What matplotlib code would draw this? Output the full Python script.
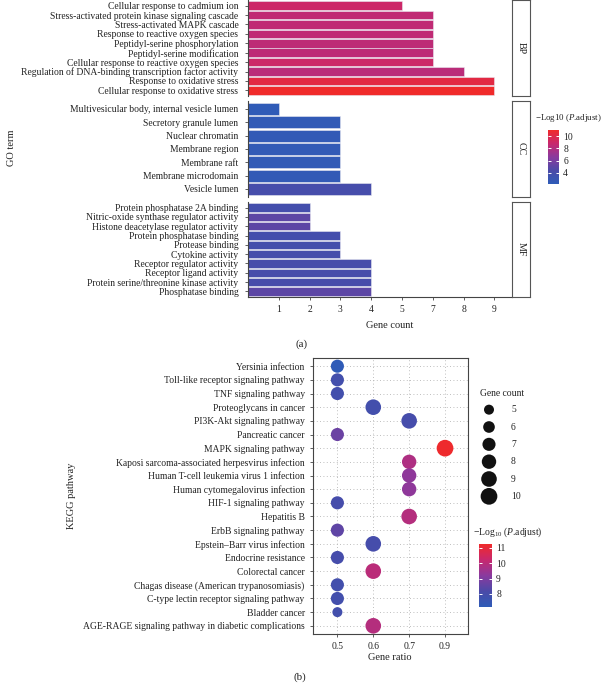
import numpy as np
import matplotlib.pyplot as plt
from matplotlib.colors import LinearSegmentedColormap, Normalize
from matplotlib.cm import ScalarMappable

plt.rcParams['font.family'] = ['Liberation Serif', 'DejaVu Serif']
plt.rcParams['mathtext.fontset'] = 'custom'
plt.rcParams['mathtext.rm'] = 'Liberation Serif'
plt.rcParams['mathtext.it'] = 'Liberation Serif:italic'

# ---- GO enrichment (panel a) ----
bp_terms = ["Cellular response to cadmium ion",
            "Stress-activated protein kinase signaling cascade",
            "Stress-activated MAPK cascade",
            "Response to reactive oxygen species",
            "Peptidyl-serine phosphorylation",
            "Peptidyl-serine modification",
            "Cellular response to reactive oxygen species",
            "Regulation of DNA-binding transcription factor activity",
            "Response to oxidative stress",
            "Cellular response to oxidative stress"]
bp_count = [5, 7, 7, 7, 7, 7, 7, 8, 9, 9]
bp_logp = [9.0, 8.5, 8.5, 8.5, 8.4, 8.4, 9.0, 8.3, 10.2, 11.0]

cc_terms = ["Multivesicular body, internal vesicle lumen",
            "Secretory granule lumen",
            "Nuclear chromatin",
            "Membrane region",
            "Membrane raft",
            "Membrane microdomain",
            "Vesicle lumen"]
cc_count = [1, 3, 3, 3, 3, 3, 4]
cc_logp = [2.4, 2.5, 2.5, 2.5, 2.5, 2.5, 4.0]

mf_terms = ["Protein phosphatase 2A binding",
            "Nitric-oxide synthase regulator activity",
            "Histone deacetylase regulator activity",
            "Protein phosphatase binding",
            "Protease binding",
            "Cytokine activity",
            "Receptor regulator activity",
            "Receptor ligand activity",
            "Protein serine/threonine kinase activity",
            "Phosphatase binding"]
mf_count = [2, 2, 2, 3, 3, 3, 4, 4, 4, 4]
mf_logp = [3.9, 5.0, 5.0, 3.9, 3.9, 4.0, 4.1, 4.1, 4.1, 5.0]

count_levels = [1, 2, 3, 4, 5, 7, 8, 9]
go_ticks = [4, 6, 8, 10]

# ---- KEGG enrichment (panel b) ----
kegg_terms = ["Yersinia infection",
              "Toll-like receptor signaling pathway",
              "TNF signaling pathway",
              "Proteoglycans in cancer",
              "PI3K-Akt signaling pathway",
              "Pancreatic cancer",
              "MAPK signaling pathway",
              "Kaposi sarcoma-associated herpesvirus infection",
              "Human T-cell leukemia virus 1 infection",
              "Human cytomegalovirus infection",
              "HIF-1 signaling pathway",
              "Hepatitis B",
              "ErbB signaling pathway",
              "Epstein\u2013Barr virus infection",
              "Endocrine resistance",
              "Colorectal cancer",
              "Chagas disease (American trypanosomiasis)",
              "C-type lectin receptor signaling pathway",
              "Bladder cancer",
              "AGE-RAGE signaling pathway in diabetic complications"]
kegg_ratio = [0.5, 0.5, 0.5, 0.6, 0.7, 0.5, 0.9, 0.7, 0.7, 0.7,
              0.5, 0.7, 0.5, 0.6, 0.5, 0.6, 0.5, 0.5, 0.5, 0.6]
kegg_count = [7, 7, 7, 9, 9, 7, 10, 8, 8, 8,
              7, 9, 7, 9, 7, 9, 7, 7, 5, 9]
kegg_logp = [7.2, 7.9, 7.9, 7.9, 8.0, 8.7, 11.2, 9.8, 9.3, 9.3,
             8.0, 9.9, 8.5, 8.0, 8.0, 10.0, 7.9, 7.9, 7.9, 9.9]

ratio_levels = [0.5, 0.6, 0.7, 0.9]
size_levels = [5, 6, 7, 8, 9, 10]
kegg_ticks = [8, 9, 10, 11]

cmap = LinearSegmentedColormap.from_list(
    "bluered", ["#2e5cb8", "#4b4aa8", "#8a3a9e", "#c8286e", "#f02a2a"])

W, H = 605, 684
fig = plt.figure(figsize=(W / 100, H / 100), dpi=100)


def box(x0, y0, x1, y1):
    return [x0 / W, 1 - y1 / H, (x1 - x0) / W, (y1 - y0) / H]


def dot_size(c):
    return 0.5184 * (100 + 35.8 * (np.asarray(c) - 5))


txt = "#222222"
spine = "#444444"
fs = 6.9
tfs = 7.5

# ---------------- panel (a) ----------------
go_norm = Normalize(2.2, 11.0)
panels = [("BP", bp_terms, bp_count, bp_logp, 0, 96),
          ("CC", cc_terms, cc_count, cc_logp, 101, 197),
          ("MF", mf_terms, mf_count, mf_logp, 202, 297)]

for name, terms, counts, logp, y0, y1 in panels:
    ax = fig.add_axes(box(248, y0, 512, y1))
    ypos = np.arange(len(terms))
    xpos = [count_levels.index(c) + 1 for c in counts]
    ax.barh(ypos, xpos, height=0.9, color=cmap(go_norm(logp)),
            edgecolor="#e8e8f0", linewidth=0.4)
    ax.set_xlim(0, 8.57)
    ax.set_ylim(len(terms) - 0.4, -0.6)
    ax.set_yticks(ypos)
    ax.set_yticklabels(terms, fontsize=fs, color=txt)
    for s in ["top", "right"]:
        ax.spines[s].set_visible(False)
    ax.spines["left"].set_color(spine)
    ax.spines["left"].set_linewidth(0.8)
    ax.tick_params(axis="y", length=2.5, width=0.6, color=spine, pad=4.5)
    if name == "MF":
        ax.spines["bottom"].set_color(spine)
        ax.spines["bottom"].set_linewidth(0.8)
        ax.set_xticks(range(1, len(count_levels) + 1))
        ax.set_xticklabels([str(c) for c in count_levels], fontsize=fs, color=txt)
        ax.tick_params(axis="x", length=2.5, width=0.6, color=spine, pad=3)
    else:
        ax.spines["bottom"].set_visible(False)
        ax.set_xticks([])

    st = fig.add_axes(box(512, y0, 530, y1))
    st.set_xticks([])
    st.set_yticks([])
    for s in st.spines.values():
        s.set_color("#555555")
        s.set_linewidth(0.8)
    st.text(0.5, 0.5, name, rotation=-90, ha="center", va="center",
            fontsize=7.2, color=txt, transform=st.transAxes)

fig.text(12 / W, 1 - 148 / H, "GO term", rotation=90, ha="center",
         va="center", fontsize=tfs, color=txt)
fig.text(390 / W, 1 - 325 / H, "Gene count", ha="center", va="center",
         fontsize=tfs, color=txt)
fig.text(301 / W, 1 - 344 / H, "(a)", ha="center", va="center",
         fontsize=7.8, color=txt)

cax = fig.add_axes(box(548, 130, 559, 184))
cb = fig.colorbar(ScalarMappable(norm=go_norm, cmap=cmap), cax=cax,
                  ticks=go_ticks)
cb.outline.set_visible(False)
cax.tick_params(color="white", labelcolor=txt, length=2.5, width=0.7,
                direction="in", left=True, right=True, labelsize=fs, pad=3)
fig.text(535 / W, 1 - 118 / H, r"$-$Log10 ($\it{P}$.adjust)", ha="left",
         va="center", fontsize=6.4, color=txt)

# ---------------- panel (b) ----------------
kegg_norm = Normalize(7.15, 11.26)
ax2 = fig.add_axes(box(313, 358, 468, 634))
ky = np.arange(len(kegg_terms))
kx = [ratio_levels.index(r) for r in kegg_ratio]
for xg in range(len(ratio_levels)):
    ax2.axvline(xg, color="#a8a8a8", linestyle=(0, (1, 3)), linewidth=0.6,
                zorder=0)
for yg in ky:
    ax2.axhline(yg, color="#a8a8a8", linestyle=(0, (1, 3)), linewidth=0.6,
                zorder=0)
ax2.scatter(kx, ky, s=dot_size(kegg_count), c=cmap(kegg_norm(kegg_logp)),
            linewidths=0, zorder=3)
ax2.set_xlim(-0.68, 3.64)
ax2.set_ylim(len(kegg_terms) - 0.4, -0.6)
ax2.set_yticks(ky)
ax2.set_yticklabels(kegg_terms, fontsize=fs, color=txt)
ax2.set_xticks(range(len(ratio_levels)))
ax2.set_xticklabels([str(r) for r in ratio_levels], fontsize=fs, color=txt)
ax2.tick_params(length=2.5, width=0.6, color=spine, pad=3.5)
for s in ax2.spines.values():
    s.set_color(spine)
    s.set_linewidth(0.8)

fig.text(72 / W, 1 - 496 / H, "KEGG pathway", rotation=90, ha="center",
         va="center", fontsize=tfs, color=txt)
fig.text(390 / W, 1 - 657 / H, "Gene ratio", ha="center", va="center",
         fontsize=tfs, color=txt)
fig.text(300 / W, 1 - 677 / H, "(b)", ha="center", va="center",
         fontsize=7.8, color=txt)

# gene count legend
fig.text(480 / W, 1 - 393 / H, "Gene count", ha="left", va="center",
         fontsize=fs, color=txt)
lax = fig.add_axes(box(480, 401, 520, 505))
ly = np.arange(len(size_levels))
lax.scatter(np.zeros(len(size_levels)), ly, s=dot_size(size_levels),
            color="#111111", linewidths=0)
for i, lv in enumerate(size_levels):
    lax.text(0.55, i, str(lv), ha="left", va="center", fontsize=fs, color=txt)
lax.set_xlim(-0.225, 0.775)
lax.set_ylim(len(size_levels) - 0.5, -0.5)
lax.axis("off")

cax2 = fig.add_axes(box(479, 544, 492, 607))
cb2 = fig.colorbar(ScalarMappable(norm=kegg_norm, cmap=cmap), cax=cax2,
                   ticks=kegg_ticks)
cb2.outline.set_visible(False)
cax2.tick_params(color="white", labelcolor=txt, length=2.5, width=0.7,
                 direction="in", left=True, right=True, labelsize=fs, pad=3)
fig.text(473 / W, 1 - 532 / H, r"$-$Log$_{10}$ ($\it{P}$.adjust)", ha="left",
         va="center", fontsize=fs, color=txt)

fig.savefig("out.png", dpi=100)
